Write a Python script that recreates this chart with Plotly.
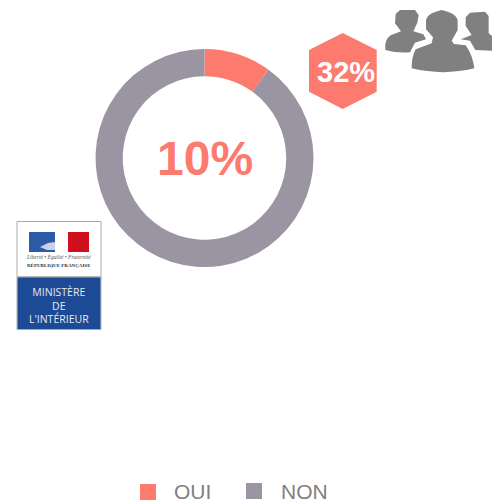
import plotly.graph_objects as go

W, H = 492, 502
labels = ["OUI", "NON"]
values = [10, 90]
colors = ["#FD7A6F", "#9B95A3"]
center_text = "10%"
badge_text = "32%"
logo_lines = ["MINISTÈRE", "DE", "L'INTÉRIEUR"]

def px(x, y):
    return x / W, 1 - y / H

def path(cmds):
    out = []
    for c in cmds:
        op, pts = c[0], c[1:]
        s = op + " ".join("%.5f,%.5f" % px(pts[i], pts[i + 1]) for i in range(0, len(pts), 2))
        out.append(s)
    return " ".join(out) + " Z"

def zoomed(cmds, ox, oy):
    r = []
    for c in cmds:
        op, pts = c[0], c[1:]
        q = [op]
        for i in range(0, len(pts), 2):
            q += [ox + pts[i] / 3, oy + pts[i + 1] / 3]
        r.append(q)
    return r

def rect(x0, y0, x1, y1, fill, line=None):
    a, b = px(x0, y0), px(x1, y1)
    return dict(type="rect", xref="paper", yref="paper", x0=a[0], y0=b[1], x1=b[0], y1=a[1],
                fillcolor=fill, line=dict(color=line or fill, width=1 if line else 0), layer="above")

def poly(cmds, fill):
    return dict(type="path", xref="paper", yref="paper", path=path(cmds), fillcolor=fill,
                line=dict(width=0), layer="above")

def text(x, y, t, size, color, bold=False, family="Liberation Sans", anchor="center", height=None, style="normal"):
    a = px(x, y)
    d = dict(xref="paper", yref="paper", x=a[0], y=a[1], text="<b>%s</b>" % t if bold else t,
             showarrow=False, xanchor=anchor, yanchor="middle",
             font=dict(size=size, color=color, family=family, style=style))
    if height:
        d["height"] = height
        d["borderpad"] = 0
        d["borderwidth"] = 0
    return d

PERSON = "#808080"
person_mid = [["M", 378, 62], ["Q", 380, 40, 425, 30], ["Q", 470, 40, 473, 62], ["L", 473, 90],
              ["L", 455, 122], ["L", 462, 132], ["L", 497, 136], ["Q", 518, 165, 523, 205],
              ["Q", 430, 228, 335, 205], ["Q", 335, 170, 347, 148], ["L", 395, 130],
              ["L", 399, 112], ["L", 378, 88]]
person_left = [["M", 287, 42], ["L", 300, 30], ["L", 345, 30], ["L", 356, 45], ["L", 352, 68],
               ["L", 340, 94], ["L", 370, 103], ["L", 378, 118], ["L", 345, 128], ["L", 330, 157],
               ["Q", 290, 160, 256, 150], ["Q", 252, 120, 272, 106], ["L", 303, 94], ["L", 285, 70]]
person_right = [["M", 497, 52], ["L", 510, 38], ["L", 555, 35], ["L", 566, 48], ["L", 566, 100],
                ["L", 576, 108], ["L", 576, 152], ["L", 526, 150], ["L", 510, 122], ["L", 482, 118],
                ["L", 515, 105], ["L", 497, 78]]
hexagon = [["M", 342.7, 33], ["L", 376.7, 50], ["L", 376.7, 91.7], ["L", 342.7, 109], ["L", 309, 91.7], ["L", 309, 50]]

shapes = [
    poly(hexagon, colors[0]),
    poly(zoomed(person_mid, 300, 0), PERSON),
    poly(zoomed(person_left, 300, 0), PERSON),
    poly(zoomed(person_right, 300, 0), PERSON),
    # logo
    rect(17, 221.5, 101, 329.5, "#FFFFFF", "#AAAAAA"),
    rect(17.5, 277, 100.5, 329, "#1C4A94"),
    rect(17.5, 276, 100.5, 277.5, "#B8B8B8"),
    rect(29, 232, 55, 252, "#2C5CA8"),
    rect(68, 232, 89, 252, "#D0101C"),
    poly([["M", 40, 247], ["L", 48, 243], ["L", 55, 242], ["L", 55, 250], ["L", 47, 250]], "#C8D2E4"),
    poly([["M", 56, 232], ["L", 68, 232], ["L", 68, 252], ["L", 59, 252], ["L", 64, 246], ["L", 65, 240], ["L", 60, 234]], "#FFFFFF"),
    # legend squares
    rect(140, 484, 156, 500, colors[0]),
    rect(246, 483, 262, 499, colors[1]),
]

annotations = [
    text(205, 159, center_text, 48, colors[0], bold=True),
    text(345.5, 72, badge_text, 29, "#FFFFFF", bold=True),
    text(58, 256, "Liberté • Égalité • Fraternité", 5.5, "#555555", family="Liberation Serif", style="italic"),
    text(59, 265, "RÉPUBLIQUE FRANÇAISE", 5, "#333333", bold=True, family="Liberation Serif"),
    text(59, 305.5, "<br>".join(logo_lines), 10.5, "#E6EAF2", family="Open Sans"),
    text(174, 491, labels[0], 21, "#808080", anchor="left", height=22),
    text(281, 491, labels[1], 21, "#808080", anchor="left", height=22),
]

xa, ya = px(95.5, 267)
xb, yb = px(313.5, 49)
fig = go.Figure(go.Pie(
    labels=labels, values=values, hole=0.75, sort=False, direction="clockwise", rotation=0,
    marker=dict(colors=colors, line=dict(width=0)), textinfo="none", showlegend=False,
    domain=dict(x=[xa, xb], y=[ya, yb]),
))
fig.update_layout(width=W, height=H, margin=dict(l=0, r=0, t=0, b=0), paper_bgcolor="#FFFFFF",
                  shapes=shapes, annotations=annotations, showlegend=False)
fig.write_html("out.html", config=dict(displayModeBar=False),
               post_script="document.documentElement.style.overflow='hidden';document.body.style.margin='0';")
